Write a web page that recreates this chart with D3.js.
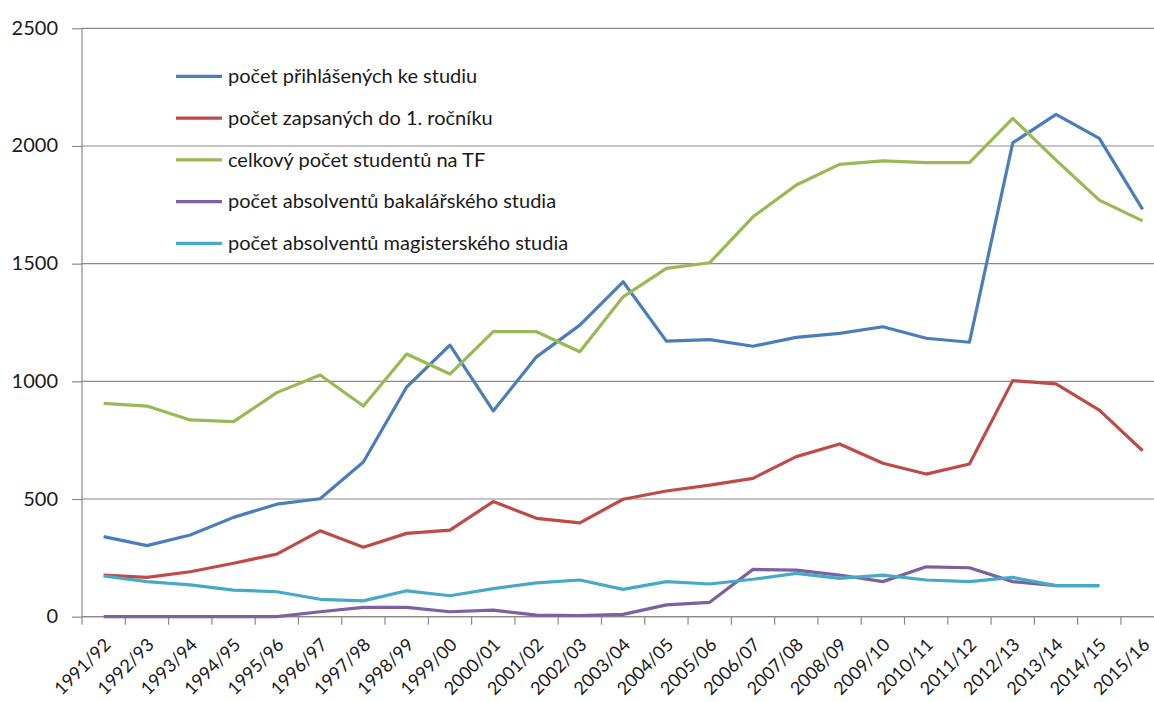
<!DOCTYPE html>
<html>
<head>
<meta charset="utf-8">
<script src="https://cdn.jsdelivr.net/npm/d3@7"></script>
<style>
  html, body { margin: 0; padding: 0; background: #fff; }
  svg { display: block; }
  text { font-family: Lato, "Open Sans", "Liberation Sans", sans-serif; fill: #1a1a1a; }
</style>
</head>
<body>
<svg id="chart" width="1154" height="702"></svg>
<script>
const categories = ["1991/92","1992/93","1993/94","1994/95","1995/96","1996/97","1997/98","1998/99","1999/00","2000/01","2001/02","2002/03","2003/04","2004/05","2005/06","2006/07","2007/08","2008/09","2009/10","2010/11","2011/12","2012/13","2013/14","2014/15","2015/16"];

const prihlasenych = [340,302,347,422,478,501,657,976,1154,874,1104,1239,1423,1171,1177,1149,1187,1204,1232,1183,1166,2013,2134,2032,1731];
const zapsanych    = [177,167,191,227,266,365,295,354,368,489,418,399,499,534,559,588,680,734,652,606,649,1003,989,878,705];
const celkovy      = [906,895,836,829,952,1027,895,1116,1031,1211,1211,1126,1359,1480,1504,1699,1834,1922,1937,1929,1929,2117,1940,1770,1682];
const bakalarske   = [0,0,0,0,0,21,40,40,21,28,7,5,10,50,61,201,198,177,149,212,208,149,132,132,null];
const magisterske  = [173,149,135,113,106,74,67,110,89,119,144,156,116,149,139,159,184,163,177,156,149,167,132,132,null];

const seriesNames = ["počet přihlášených ke studiu","počet zapsaných do 1. ročníku","celkový počet studentů na TF","počet absolventů bakalářského studia","počet absolventů magisterského studia"];
const seriesColors = ["#4A7EBB","#BE4B48","#98B954","#7D60A0","#46AAC5"];
const yTicks = [0,500,1000,1500,2000,2500];

const seriesValues = [prihlasenych, zapsanych, celkovy, bakalarske, magisterske];

const svg = d3.select("#chart");
const plotLeft = 82, plotTop = 28.3, plotBottom = 616.7, band = 43.29;
const x = d3.scaleBand().domain(categories).range([plotLeft, plotLeft + band * categories.length]).padding(0);
const y = d3.scaleLinear().domain([0, 2500]).range([plotBottom, plotTop]);

// gridlines
svg.append("g").selectAll("line").data(yTicks).join("line")
  .attr("x1", plotLeft).attr("x2", 1154)
  .attr("y1", d => y(d)).attr("y2", d => y(d))
  .attr("stroke", "#8a8a8a").attr("stroke-width", 1.2);

// y axis
const yAxis = svg.append("g").attr("transform", `translate(${plotLeft},0)`)
  .call(d3.axisLeft(y).tickValues(yTicks).tickSize(10).tickPadding(14).tickFormat(d3.format("d")));
yAxis.select(".domain").remove();
yAxis.selectAll("line").attr("stroke", "#8a8a8a").attr("stroke-width", 1.2);
yAxis.selectAll("text").attr("font-size", 20).attr("dy", "0.3em").attr("fill", "#1a1a1a")
  .attr("font-family", "Lato, 'Open Sans', sans-serif");

// vertical axis line
svg.append("line").attr("x1", plotLeft).attr("x2", plotLeft).attr("y1", plotTop).attr("y2", plotBottom)
  .attr("stroke", "#8a8a8a").attr("stroke-width", 1.2);

// x axis
const xAxis = svg.append("g").attr("transform", `translate(0,${plotBottom})`)
  .call(d3.axisBottom(x).tickSize(8).tickSizeOuter(0));
xAxis.select(".domain").attr("stroke", "#8a8a8a").attr("stroke-width", 1.2)
  .attr("d", `M${plotLeft},0H1154`);
xAxis.selectAll(".tick line").attr("x1", -band / 2).attr("x2", -band / 2)
  .attr("stroke", "#8a8a8a").attr("stroke-width", 1.2);
xAxis.selectAll(".tick text")
  .attr("font-size", 18).attr("fill", "#1a1a1a")
  .attr("font-family", "Lato, 'Open Sans', sans-serif")
  .attr("text-anchor", "end")
  .attr("y", 0).attr("dy", "0.72em")
  .attr("transform", "translate(-1,20) rotate(-45)");

// lines
const line = d3.line()
  .defined(d => d.v !== null)
  .x(d => x(d.c) + x.bandwidth() / 2)
  .y(d => y(d.v));

seriesValues.forEach((vals, i) => {
  svg.append("path")
    .datum(categories.map((c, j) => ({ c, v: vals[j] })))
    .attr("fill", "none")
    .attr("stroke", seriesColors[i])
    .attr("stroke-width", 3.2)
    .attr("stroke-linejoin", "round")
    .attr("d", line);
});

// legend
const legend = svg.append("g");
seriesNames.forEach((name, i) => {
  const ly = 76.3 + i * 41.75;
  legend.append("line").attr("x1", 176).attr("x2", 222).attr("y1", ly).attr("y2", ly)
    .attr("stroke", seriesColors[i]).attr("stroke-width", 3.2);
  legend.append("text").attr("x", 228).attr("y", ly).attr("dy", "0.34em")
    .attr("font-size", 20).text(name);
});
</script>
</body>
</html>
